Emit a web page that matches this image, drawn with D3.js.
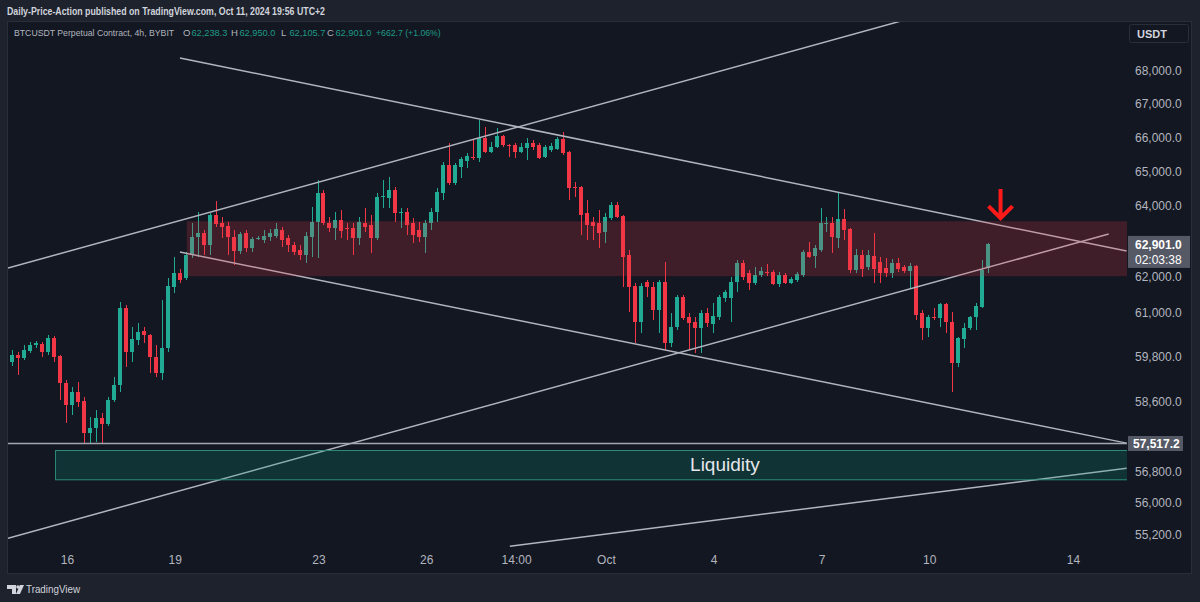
<!DOCTYPE html>
<html><head><meta charset="utf-8">
<script src="https://cdn.jsdelivr.net/npm/d3@7"></script>
<style>
html,body{margin:0;padding:0;background:#1e222d;}
svg{display:block;}
text{font-family:"Liberation Sans",Arial,sans-serif;}
</style></head><body>
<svg id="chart" width="1200" height="602"></svg>
<script>
// ---------------- DATA ----------------
const firstBarTime = "2024-09-14T10:00Z";   // 4h bars (UTC+2 wall clock)
const barHours = 4;
const opens = [60119,59661,59850,59769,59957,60119,60146,59930,60308,59823,
59100,58519,58862,58624,57786,57917,58178,58021,58650,59047,
61128,59930,60254,60498,60390,59796,59367,60038,61707,62097,
61958,62602,63111,63224,62884,63738,63509,63424,63111,62714,
63224,62799,63054,63026,63111,63139,63310,63082,62884,62742,
62602,63111,63538,64371,63509,63367,63595,63367,63367,63082,
63509,63452,63082,64256,64227,64458,63795,63823,63509,63310,
63111,63509,63823,64371,65187,64661,65128,65304,65422,65392,
65983,65569,65717,66042,65776,65776,65569,65687,65835,65776,
65422,65628,65658,65953,65569,64545,64545,63795,63538,63509,
63253,63652,64025,63709,62602,61735,60744,61846,61707,61073,
61846,60173,60608,61430,60881,60744,60580,60990,60689,60881,
61403,61403,61846,62377,62097,61818,62041,62125,62125,61791,
62041,61818,61902,62041,62686,62574,62742,63481,63509,63082,
63623,63338,62181,62602,62265,62574,62405,62237,62097,62377,
62265,62153,62293,60990,60580,60881,60853,61238,60744,59634,
60281,60580,60881,61155,62238.3];
const highs = [60173,59984,59930,60119,60200,60227,60200,60390,60363,59850,
59180,58994,59127,58730,58204,58387,58309,58730,59260,61293,
61210,60608,60717,60608,60417,60119,61348,61958,62545,62209,
62686,63509,63823,63310,63795,64140,63681,63538,63310,63253,
63310,63111,63139,63310,63338,63509,63395,63167,62969,62884,
63253,63967,64748,64458,63681,63823,63881,63509,63509,63681,
63938,63738,64371,64748,64836,64545,63938,63938,63652,63538,
63595,63938,64516,65275,65835,65245,65422,65539,65924,66519,
66310,65864,66280,66072,65800,65835,65835,65983,65924,65835,
65776,65835,66013,66161,65600,64690,64580,64169,63681,63881,
63795,64111,64111,63738,62742,61818,61818,61902,61846,61902,
62405,60990,61486,61486,60990,60881,61073,61128,61265,61486,
61624,61986,62461,62461,62181,62265,62265,62349,62181,62125,
62097,61986,62125,62742,62969,62884,63938,63681,63681,64400,
63910,63367,62771,62742,62742,63224,62545,62517,62489,62517,
62321,62377,62321,61073,60936,61128,61265,61265,61018,60336,
60717,60908,61265,62461,62950];
const lows = [59581,59554,59313,59715,59903,60038,59796,59850,59661,58650,
58047,58256,58466,57540,57517,57553,57527,57969,58598,58862,
59527,59661,60119,60173,59367,59260,59180,59930,61541,61818,
61902,62517,62545,62602,62602,63395,63082,62602,62321,62630,
62686,62686,63026,62941,62997,63082,62827,62686,62602,62461,
62377,62545,62517,63452,63253,63026,63082,63026,62602,62884,
63253,62658,63026,63938,63938,63538,63367,63167,62941,62969,
62658,63310,63538,64169,64603,64603,64807,65099,65333,65275,
65539,65539,65687,65717,65422,65392,65539,65333,65628,65363,
65392,65569,65628,65480,64169,64256,63167,63026,63026,62799,
62941,63595,63652,61707,61018,60173,60444,61430,60798,60444,
59984,60065,60526,60798,59984,59903,59903,60608,60444,60798,
61293,60744,61568,61902,61624,61763,61986,62014,61763,61707,
61791,61791,61846,61986,62517,62237,62686,63253,62658,62799,
63026,62097,62097,61986,62181,61818,61818,61986,61958,62125,
62097,61680,60798,60254,60336,60798,60608,60444,58862,59527,
60038,60526,60526,61128,62105.7];
const closes = [59661,59850,59769,59984,60119,60173,59930,60308,59796,59100,
58519,58862,58598,57786,57917,58178,58021,58650,59047,61128,
59930,60281,60471,60390,59796,59367,60038,61735,62097,61902,
62602,63111,63224,62884,63738,63481,63395,63111,62714,63196,
62799,63054,63082,63139,63224,63338,63026,62884,62686,62602,
63139,63538,64371,63509,63367,63595,63281,63338,63082,63538,
63395,63082,64256,64284,64458,63795,63823,63452,63167,63111,
63509,63823,64400,65187,64661,65187,65363,65451,65392,65983,
65569,65717,66042,65776,65746,65569,65717,65835,65717,65392,
65717,65746,65953,65539,64516,64516,63738,63452,63424,63224,
63681,64025,63681,62545,61707,60744,61735,61707,61073,61846,
60173,60608,61430,60853,60717,60580,60990,60717,60908,61430,
61568,61846,62377,61986,61818,62041,62153,62097,61791,62041,
61818,61930,62069,62686,62545,62799,63509,63509,63111,63623,
63310,62181,62602,62209,62602,62209,62097,62097,62377,62209,
62153,62293,60936,60580,60881,60853,61238,60744,59634,60308,
60580,60881,61183,62181,62901];

const priceTicks = [68000,67000,66000,65000,64000,62000,61000,59800,58600,56800,56000,55200];
const timeTickDates = ["2024-09-16T02:00Z","2024-09-19T02:00Z","2024-09-23T02:00Z","2024-09-26T02:00Z","2024-09-28T14:00Z","2024-10-01T02:00Z","2024-10-04T02:00Z","2024-10-07T02:00Z","2024-10-10T02:00Z","2024-10-14T02:00Z"];
const timeTickLabels = ["16","19","23","26","14:00","Oct","4","7","10","14"];

// trend lines: start/end time and price
const lineStartTimes = ["2024-09-14T10:36Z","2024-09-19T05:26Z","2024-09-19T05:26Z","2024-09-14T10:36Z","2024-09-28T09:50Z"];
const lineStartPrices = [62237,68399,62686,55120,54922];
const lineEndTimes = ["2024-10-09T09:36Z","2024-10-15T13:50Z","2024-10-15T13:50Z","2024-10-15T01:50Z","2024-10-15T13:50Z"];
const lineEndPrices = [69577,62714,57527,63196,56883];

const supportLevel = 57517.2;
const zoneStart = "2024-09-19T10:00Z", zoneEnd = "2024-10-25T00:00Z";
const zoneTop = 63560, zoneBottom = 62010;
const liqStart = "2024-09-15T18:00Z", liqEnd = "2024-10-23T01:00Z";
const liqTop = 57345, liqBottom = 56595;
const liqLabel = "Liquidity";
const arrowTime = "2024-10-12T01:36Z", arrowTip = 63620, arrowTail = 64490;

const lastPrice = 62901.0, countdown = "02:03:38";
const titleText = "Daily-Price-Action published on TradingView.com, Oct 11, 2024 19:56 UTC+2";
const symbolText = "BTCUSDT Perpetual Contract, 4h, BYBIT";
const ohlcKeys = ["O","H","L","C"];
const ohlcValues = ["62,238.3","62,950.0","62,105.7","62,901.0"];
const changeText = "+662.7 (+1.06%)";

// ---------------- DRAW ----------------
const UP = "#22ab94", DOWN = "#f23645", LINE = "#b2b5be", AXIS_TXT = "#b2b5be";
const pane = {x0: 8, y0: 22, x1: 1127, y1: 549};
const svg = d3.select("#chart");
svg.append("rect").attr("width",1200).attr("height",602).attr("fill","#1e222d");
svg.append("rect").attr("x",7.5).attr("y",21.5).attr("width",1184).attr("height",552)
  .attr("fill","#131722").attr("stroke","#2a2e39");

const x = d3.scaleUtc()
  .domain([new Date("2024-09-16T02:00Z"), new Date("2024-10-14T02:00Z")])
  .range([67, 1073]);
const y = d3.scaleLog().domain([55200, 68000]).range([535, 71]);

const t0 = Date.parse(firstBarTime);
const bars = opens.map((o,j)=>({t:new Date(t0 + j*barHours*3600e3), o, h:highs[j], l:lows[j], c:closes[j]}));

svg.append("clipPath").attr("id","pc").append("rect")
  .attr("x",pane.x0).attr("y",pane.y0).attr("width",pane.x1-pane.x0).attr("height",pane.y1-pane.y0);
const g = svg.append("g").attr("clip-path","url(#pc)");

// candles
const cg = g.append("g").attr("shape-rendering","crispEdges");
bars.forEach(b=>{
  const cx = Math.round(x(b.t));
  const col = b.c >= b.o ? UP : DOWN;
  cg.append("rect").attr("x",cx-1).attr("width",1)
    .attr("y",y(b.h)).attr("height",Math.max(1,y(b.l)-y(b.h))).attr("fill",col);
  const top = y(Math.max(b.o,b.c)), bot = y(Math.min(b.o,b.c));
  cg.append("rect").attr("x",cx-3).attr("width",4)
    .attr("y",top).attr("height",Math.max(1,bot-top)).attr("fill",col);
});

// trend lines
lineStartTimes.forEach((s,k)=>{
  g.append("line")
    .attr("x1",x(new Date(s))).attr("y1",y(lineStartPrices[k]))
    .attr("x2",x(new Date(lineEndTimes[k]))).attr("y2",y(lineEndPrices[k]))
    .attr("stroke",LINE).attr("stroke-width",1.5);
});
// horizontal support
g.append("line").attr("x1",pane.x0).attr("x2",pane.x1)
  .attr("y1",y(supportLevel)).attr("y2",y(supportLevel))
  .attr("stroke","#a3a6af").attr("stroke-width",1.5);

// resistance zone
g.append("rect")
  .attr("x",x(new Date(zoneStart))).attr("y",y(zoneTop))
  .attr("width",x(new Date(zoneEnd))-x(new Date(zoneStart)))
  .attr("height",y(zoneBottom)-y(zoneTop))
  .attr("fill","rgba(242,54,69,0.2)");

// liquidity box
const lx0 = x(new Date(liqStart)), lx1 = x(new Date(liqEnd));
g.append("rect").attr("x",lx0+0.5).attr("y",Math.round(y(liqTop))+0.5)
  .attr("width",lx1-lx0).attr("height",y(liqBottom)-y(liqTop))
  .attr("fill","rgba(8,153,129,0.22)").attr("stroke","#2b8a78").attr("stroke-width",1);
g.append("text").attr("x",(lx0+lx1)/2).attr("y",(y(liqTop)+y(liqBottom))/2)
  .attr("dy","0.35em").attr("text-anchor","middle")
  .attr("fill","#e6e7ea").attr("font-size",19).text(liqLabel);

// arrow
const ax = x(new Date(arrowTime)), ay1 = y(arrowTip), ay0 = y(arrowTail);
g.append("path")
  .attr("d",`M${ax},${ay0} L${ax},${ay1-1} M${ax-12},${ay1-13} L${ax},${ay1-1} L${ax+12},${ay1-13}`)
  .attr("fill","none").attr("stroke","#ff1a1a").attr("stroke-width",4)
  .attr("stroke-linecap","butt").attr("stroke-linejoin","miter");

// price axis
const pa = svg.append("g").attr("transform","translate(1135,0)")
  .call(d3.axisRight(y).tickValues(priceTicks).tickSize(0).tickPadding(0).tickFormat(d3.format(",.1f")));
pa.select(".domain").remove();
pa.selectAll("text").attr("fill",AXIS_TXT).attr("font-size",12).attr("font-family","Liberation Sans, Arial, sans-serif");

// time axis
const ta = svg.append("g").attr("transform","translate(0,552)")
  .call(d3.axisBottom(x).tickValues(timeTickDates.map(d=>new Date(d))).tickSize(0).tickPadding(3)
    .tickFormat((d,i)=>timeTickLabels[i]));
ta.select(".domain").remove();
ta.selectAll("text").attr("fill",AXIS_TXT).attr("font-size",12).attr("font-family","Liberation Sans, Arial, sans-serif");

// last price label
const ly = y(lastPrice);
svg.append("rect").attr("x",1128).attr("y",ly-8.5).attr("width",62).attr("height",32).attr("fill","#555965");
svg.append("text").attr("x",1135).attr("y",ly).attr("dy","0.35em").attr("fill","#ffffff")
  .attr("font-size",12).attr("font-weight","bold").text(d3.format(",.1f")(lastPrice));
svg.append("text").attr("x",1135).attr("y",ly+15).attr("dy","0.35em").attr("fill","#ffffff")
  .attr("font-size",12).text(countdown);
// support label
const sy = y(supportLevel);
svg.append("rect").attr("x",1128).attr("y",sy-7.5).attr("width",55).attr("height",15).attr("fill","#555965");
svg.append("text").attr("x",1133).attr("y",sy).attr("dy","0.35em").attr("fill","#ffffff")
  .attr("font-size",12).attr("font-weight","bold").text(d3.format(",.1f")(supportLevel));

// USDT box
svg.append("rect").attr("x",1129.5).attr("y",24.5).attr("width",59).attr("height",18).attr("rx",2)
  .attr("fill","#131722").attr("stroke","#2a2e39");
svg.append("text").attr("x",1137).attr("y",34).attr("dy","0.35em").attr("fill","#d1d4dc")
  .attr("font-size",11).attr("font-weight","bold").text("USDT");

// title
svg.append("text").attr("x",7).attr("y",15).attr("fill","#d1d4dc").attr("font-size",10).attr("font-weight","bold")
  .attr("textLength",318).attr("lengthAdjust","spacingAndGlyphs").text(titleText);
// legend
svg.append("text").attr("x",14).attr("y",36).attr("fill","#b2b5be").attr("font-size",8.7).text(symbolText);
const keyX = [183,231,281,327];
ohlcKeys.forEach((k,i)=>{
  svg.append("text").attr("x",keyX[i]).attr("y",36).attr("font-size",9.5).attr("fill","#b2b5be").text(k);
  svg.append("text").attr("x",keyX[i]+8.5).attr("y",36).attr("font-size",9.2).attr("fill","#1f9a85")
    .text(ohlcValues[i]);
});
svg.append("text").attr("x",376).attr("y",36).attr("font-size",8.7).attr("fill","#1f9a85").text(changeText);

// footer logo
const fl = svg.append("g").attr("fill","#d1d4dc");
fl.append("path").attr("d","M7,585 h9 v9 h-4 v-5 h-5 z");
fl.append("circle").attr("cx",18).attr("cy",587).attr("r",1.8);
fl.append("path").attr("d","M20,585 h4 l-4,9 h-4 z");
svg.append("text").attr("x",26).attr("y",593).attr("fill","#d1d4dc").attr("font-size",11)
  .attr("textLength",54).attr("lengthAdjust","spacingAndGlyphs").text("TradingView");
</script>
</body></html>
